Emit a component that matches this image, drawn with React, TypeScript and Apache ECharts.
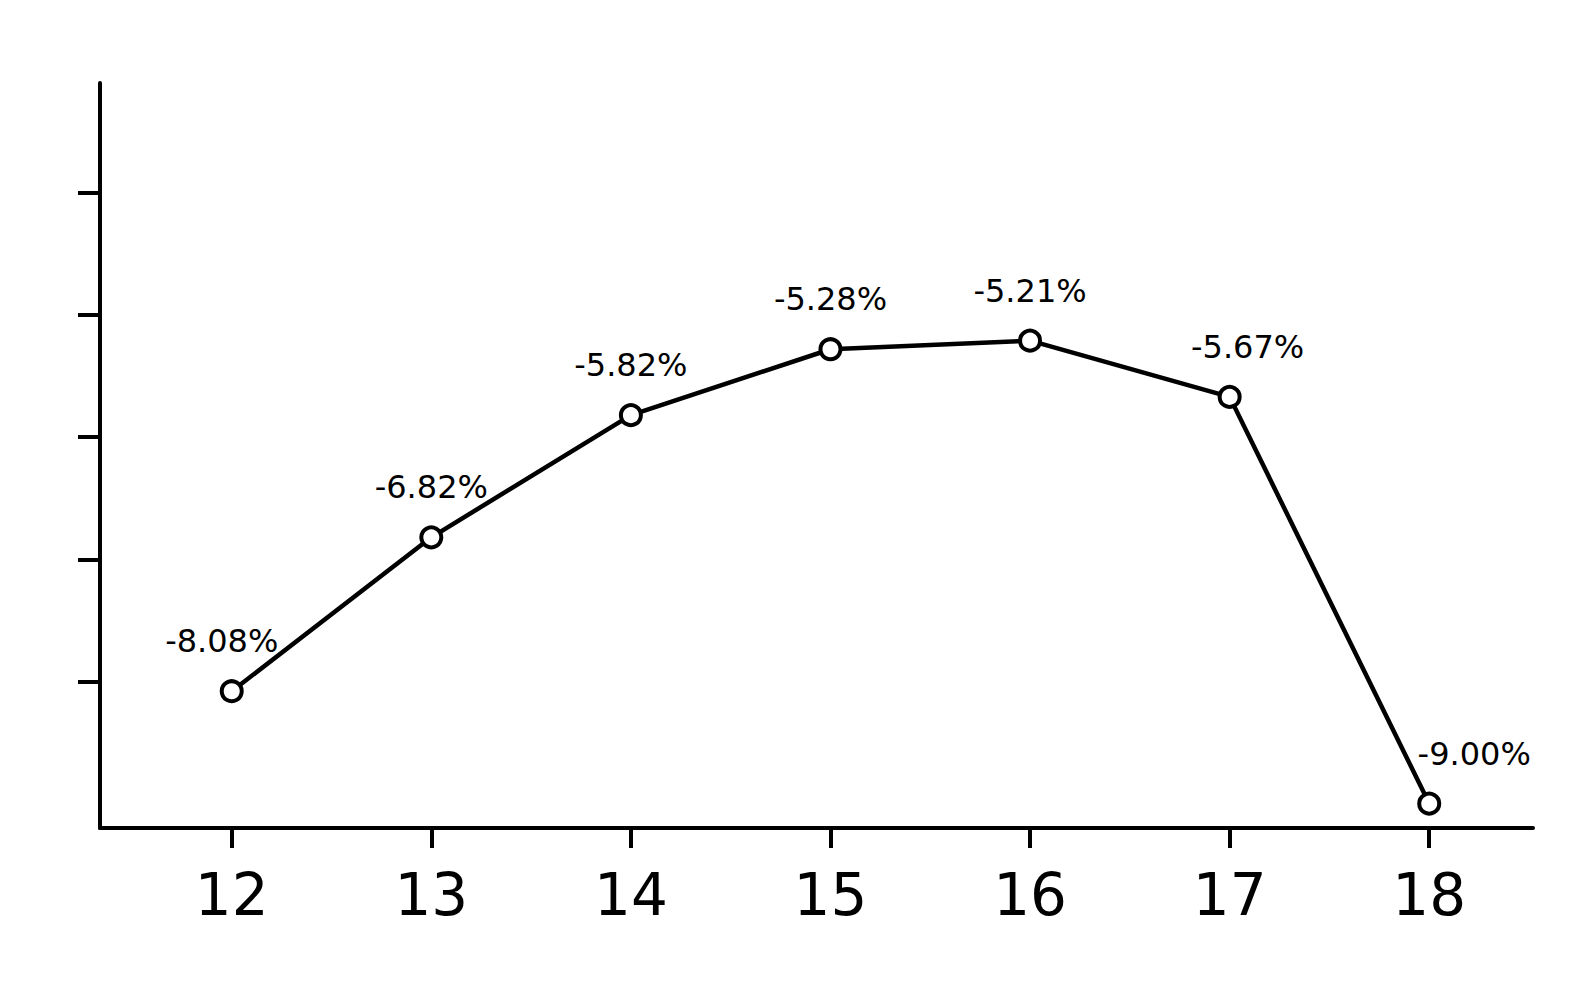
import React, { useEffect, useRef } from "react";
import * as echarts from "echarts";

// x positions and the values printed above each point
const categories = [12, 13, 14, 15, 16, 17, 18];
const values = [-8.08, -6.82, -5.82, -5.28, -5.21, -5.67, -9.0];
const yTicks = [-8, -7, -6, -5, -4];

const FONT = "'DejaVu Sans', 'Noto Sans', sans-serif";

// small horizontal nudges for a few labels, as in the drawing
const labelNudge: { [k: number]: number } = { 0: -10, 5: 18, 6: 45 };

export default function App() {
	const chartRef = useRef<HTMLDivElement>(null);

	useEffect(() => {
		if (!chartRef.current) return;
		const chart = echarts.init(chartRef.current, null, { renderer: "svg" });

		const seriesData = categories.map((c, i) => ({
			value: [c, values[i]],
			label: { offset: [labelNudge[i] || 0, 0] }
		}));

		const option: any = {
			animation: false,
			backgroundColor: "#ffffff",
			grid: { left: 100, right: 36, top: 83, bottom: 175 },
			xAxis: {
				type: "value",
				min: 11.34,
				max: 18.52,
				splitLine: { show: false },
				axisLine: { show: true, lineStyle: { color: "#000", width: 4 } },
				axisTick: {
					show: true,
					customValues: categories,
					length: 20,
					lineStyle: { color: "#000", width: 4 }
				},
				axisLabel: {
					customValues: categories,
					color: "#000",
					fontSize: 58,
					fontFamily: FONT,
					margin: 38
				}
			},
			yAxis: {
				type: "value",
				min: -9.2,
				max: -3.1,
				splitLine: { show: false },
				axisLine: { show: true, lineStyle: { color: "#000", width: 4 } },
				axisTick: {
					show: true,
					customValues: yTicks,
					length: 22,
					lineStyle: { color: "#000", width: 4 }
				},
				axisLabel: { show: false }
			},
			series: [{
				type: "line",
				data: seriesData,
				symbol: "circle",
				symbolSize: 20,
				itemStyle: { color: "#ffffff", borderColor: "#000", borderWidth: 4 },
				lineStyle: { color: "#000", width: 4.5 },
				label: {
					show: true,
					position: "top",
					distance: 22,
					color: "#000",
					fontSize: 32,
					fontFamily: FONT,
					formatter: (p: any) => p.value[1].toFixed(2) + "%"
				}
			}]
		};

		chart.setOption(option);
		const handleResize = () => chart.resize();
		window.addEventListener("resize", handleResize);
		return () => {
			window.removeEventListener("resize", handleResize);
			chart.dispose();
		};
	}, []);

	return (
		<div ref={chartRef} style={{ position: "absolute", left: 0, top: 0, width: 1569, height: 1003 }} />
	);
}
